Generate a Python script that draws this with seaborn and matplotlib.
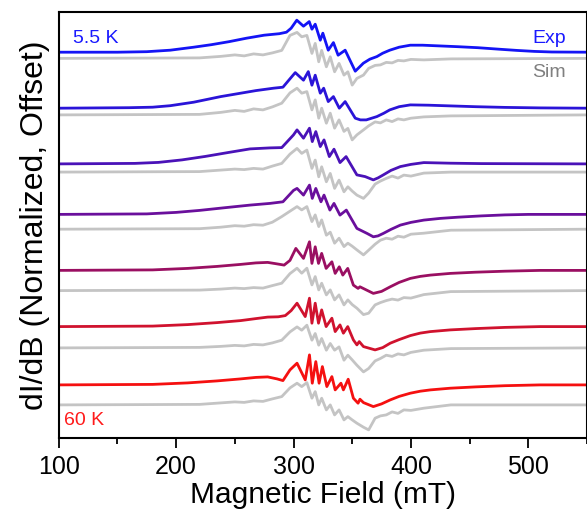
import numpy as np
import matplotlib
matplotlib.use("Agg")
import matplotlib.pyplot as plt
from matplotlib.ticker import MultipleLocator
import seaborn as sns

sns.set_style("white")
plt.rcParams["font.family"] = ["Liberation Sans", "DejaVu Sans"]
plt.rcParams["text.color"] = "black"
plt.rcParams["axes.labelcolor"] = "black"
plt.rcParams["xtick.color"] = "black"

# ----------------------------------------------------------
# Data (field in mT, signal in arb. units)
# ----------------------------------------------------------
temps = ["5.5 K", "", "", "", "", "", "60 K"]
exp_offsets = [385.7, 329.7, 274.0, 223.5, 167.5, 111.3, 53.0]
sim_offsets = [379.5, 323.0, 265.8, 208.7, 147.3, 90.0, 33.0]

exp1_field = [100, 150, 175, 195, 215, 230, 245, 260, 275, 288, 294, 298, 302.8, 308.5, 313.4,
              315.7, 318.5, 322.8, 325, 329.6, 334, 338, 344, 352.6, 359.5, 365, 371, 376, 382,
              390, 399.5, 410, 420, 440, 457, 475, 490, 505, 520, 550]
exp1_val = [0, 0, 0.5, 2, 5, 7.5, 10.5, 14, 17, 18.5, 20, 24, 32, 26, 30.6,
            23, 28, 12, 19, 2, 9.6, -3, 2, -19, -11, -7, -4.4, -1, 2,
            5, 7, 7, 6.5, 5.5, 4.5, 3, 1.8, 0.8, 0.2, 0]

exp2_field = [100, 160, 180, 195, 215, 238, 255, 268, 283, 291, 296, 301.5, 308.5, 312.6, 315.7,
              318.5, 322.8, 325.7, 329.6, 334, 339, 344, 352.6, 357, 362, 371, 377, 382, 390,
              399.5, 415, 433.6, 455, 480, 510, 550]
exp2_val = [0, 0.5, 1, 2.5, 6, 11.6, 15, 17.6, 20, 21, 28, 35.6, 28, 36.6, 23,
            33, 15, 20, 6.6, 11.6, 0, 6.6, -10, -11.7, -11.7, -8.4, -5, -1.7, 1.5,
            3.3, 3, 2.3, 1.5, 0.8, 0.3, 0]

exp3_field = [100, 165, 185, 205, 225, 245, 263, 280, 290, 300, 303, 308.5, 313.6, 316, 319,
              322.8, 326, 330.5, 334.5, 339.6, 344.8, 354, 361, 368, 372, 376.5, 383, 391, 400,
              411, 433.6, 460, 550]
exp3_val = [0, 0.5, 1.5, 4, 7.5, 11.5, 15, 16, 16.3, 29, 34, 25.7, 35.7, 22.3, 32.3,
            17.3, 24, 7.3, 14.7, 1.3, 7.3, -11, -12.7, -16, -14, -11, -6.5, -2.7, -0.5,
            1.3, 0.7, 0.3, 0]

exp4_field = [100, 175, 200, 220, 240, 263, 280, 291, 300, 303, 308.5, 313.6, 316, 319, 323.4,
              326, 331, 334.5, 339.6, 345, 354, 362.6, 368, 372, 376.5, 383, 391, 400, 411,
              425, 440, 460, 480, 500, 550]
exp4_val = [0, 0.5, 2, 4, 6.5, 9.3, 11, 12.6, 24, 26, 19.3, 29.3, 16, 26, 12.6,
            19.3, 4.3, 11, -0.7, 4.3, -14, -19, -22.4, -21.5, -19, -15, -10.7, -8, -5.7,
            -4, -2.8, -1.5, -0.5, 0, 0]

exp5_field = [100, 180, 210, 235, 255, 268, 278, 286, 292, 297, 302, 308.5, 313.6, 315.7, 318.5,
              321.3, 324, 327.8, 332.7, 335.5, 339, 342, 346.2, 351, 355, 356.6, 368, 375, 382.4,
              390, 399.5, 408, 416.6, 433.6, 455, 480, 510, 550]
exp5_val = [0, 0.5, 2, 4, 6, 7.5, 8, 6.5, 5.3, 10, 22, 12, 28.6, 7, 23.6,
            7, 17, 2, 8.6, -3, 3.6, -4.7, 2, -14.7, -18, -16.4, -23, -21, -16.4,
            -12, -8, -6, -4.7, -3, -1.8, -0.8, 0, 0]

exp6_field = [100, 180, 210, 235, 255, 268, 278, 287, 293, 298, 303, 310, 313.6, 315.7, 318.5,
              321.3, 324, 327.8, 332.7, 335.5, 339.6, 342.5, 346.2, 351, 354, 356, 359.6, 369.5,
              376, 382.4, 390, 399.5, 408, 416.6, 433.6, 455, 480, 510, 550]
exp6_val = [0, 0.5, 2, 4, 6, 8, 9.5, 9.8, 11, 16, 23.4, 10, 28.4, 3.4, 23.4,
            3.4, 16.7, 0, 8.4, -5, 1.7, -6.6, 0, -13.3, -18.3, -15, -20, -23.3,
            -21, -16.6, -13, -9, -6.5, -5, -3.3, -2, -0.8, 0, 0]

exp7_field = [100, 180, 210, 235, 255, 268, 278, 286, 291, 297, 303, 310, 313.6, 316, 319,
              321.8, 324.6, 328.4, 332.7, 335.5, 340.4, 342.5, 346.6, 351, 355, 356.6, 359.6,
              368, 375, 382.4, 390, 399.5, 408, 416.6, 433.6, 455, 480, 510, 550]
exp7_val = [0, 0.5, 2, 4, 6, 7.5, 8, 6, 4.3, 15, 21.7, 5, 30, 1.7, 23.3,
            1.7, 18.3, -1.7, 8.3, -5, 1.7, -5, 5.7, -13.3, -18.3, -14.3, -17.7,
            -21.7, -19, -15, -11.5, -8.3, -6.3, -5, -3.3, -2, -0.8, 0, 0]

sim_field = [100, 220, 238, 250, 258, 266, 274, 282, 290, 297, 303, 307, 311.4, 315.7, 318.5,
             321.5, 324, 328, 331.3, 335, 338.8, 343, 346.3, 350, 354, 359.6, 364, 369.5, 374,
             379, 384, 389, 394, 400, 411, 434, 550]
sim1_val = [0, 0.5, 2, 3.5, 2.5, 4.5, 3.5, 5.5, 8, 23, 26, 21.6, 23, 5, 15,
            -3.4, 8, -8.4, 1.6, -13.4, -5, -16.7, -13.4, -26.7, -20, -16.7, -10, -7, -6.5,
            -4, -4.5, -2, -2.5, -1, -1.5, -0.5, 0]
sim2_val = [0, 0.5, 2.5, 4.5, 3.5, 6, 5, 8, 11.7, 22, 26.7, 21.7, 23.3, 5, 15,
            -3.3, 6.7, -8.3, 1.7, -13.3, -5, -16.5, -13.5, -25, -20, -15, -11, -7, -8,
            -5, -6.7, -4, -5, -3.3, -2, -1, 0]
sim3_val = [0, 0.5, 2, 3, 2.5, 3.7, 3, 6, 8.7, 18, 23.7, 18.7, 22, 3.7, 12,
            -4.7, 5.3, -9.7, -1.3, -16.3, -8, -19.7, -14.7, -19, -23, -26.3, -21, -12, -9,
            -6.3, -4, -6, -3, -4, -1, 0, 0]
sim4_val = [0, 0.5, 2, 3.5, 3, 4.5, 4, 7, 12.6, 18, 22.6, 19.3, 22.6, 7.6, 14.3,
            2.6, 9.3, -6, -3, -14, -9, -17.4, -14, -17, -20.7, -25.7, -21, -15, -11,
            -9, -10, -7, -8, -5, -4, -1, 0]
sim5_val = [0, 0.5, 1.5, 2.5, 2, 3, 2.5, 5, 7.4, 17, 22.4, 17.4, 22.4, 5.7, 14,
            0.7, 7.4, -4.3, 0.7, -9.3, -4.3, -14.3, -9.3, -14, -17.6, -24, -22.6, -14.3, -12,
            -10, -8.5, -9.5, -7, -7.5, -4, -1, 0]
sim6_val = [0, 0.5, 1.5, 2.5, 2, 3.5, 3, 5, 7.7, 16, 21, 17.7, 22.7, 7.7, 14.4,
            2.7, 9.4, -2.3, 4.4, -2.3, 1, -12.3, -7.3, -12, -17.3, -24, -20.6, -13, -10.6,
            -7.3, -8.5, -6, -7, -4.5, -2.3, -0.7, 0]
sim7_val = [0, 0.5, 2, 3, 2.5, 4, 3.5, 6, 8.3, 17, 21.7, 18.3, 22.3, 6.7, 13.3,
            0, 6.7, -5, 0, -10, -5, -15, -11.7, -15, -18.3, -22.3, -25, -13.3, -11,
            -10, -7, -8.5, -5, -5.5, -3.3, 0, 0]

exp_fields = [exp1_field, exp2_field, exp3_field, exp4_field, exp5_field, exp6_field, exp7_field]
exp_vals = [exp1_val, exp2_val, exp3_val, exp4_val, exp5_val, exp6_val, exp7_val]
sim_vals = [sim1_val, sim2_val, sim3_val, sim4_val, sim5_val, sim6_val, sim7_val]

exp_colors = ["#1414f5", "#2a14d8", "#4a12b8", "#6a0f9c", "#9a0f62", "#d0122e", "#f51010"]
sim_color = "#c4c4c4"

# ----------------------------------------------------------
# Plot
# ----------------------------------------------------------
fig = plt.figure(figsize=(5.87, 5.17), dpi=100)
ax = fig.add_axes([0.1, 0.153, 0.9, 0.824])

for i in range(7):
    sns.lineplot(x=sim_field, y=np.array(sim_vals[i]) + sim_offsets[i], ax=ax,
                 color=sim_color, lw=2, estimator=None, sort=False)
for i in range(7):
    sns.lineplot(x=exp_fields[i], y=np.array(exp_vals[i]) + exp_offsets[i], ax=ax,
                 color=exp_colors[i], lw=2, estimator=None, sort=False)

ax.set_xlim(100, 550)
ax.set_ylim(0, 426)
ax.xaxis.set_major_locator(MultipleLocator(100))
ax.xaxis.set_minor_locator(MultipleLocator(50))
ax.set_xticks([100, 200, 300, 400, 500])
ax.set_yticks([])
ax.tick_params(axis="x", which="major", direction="out", length=7, width=1.3,
               labelsize=18, pad=5, bottom=True, colors="black")
ax.tick_params(axis="x", which="minor", direction="out", length=4, width=1.3, bottom=True)
for s in ax.spines.values():
    s.set_linewidth(1.5)
    s.set_color("black")

ax.set_xlabel("Magnetic Field (mT)", fontsize=21.5, labelpad=2)
ax.set_ylabel("dI/dB (Normalized, Offset)", fontsize=23, labelpad=6)

ax.text(112, 399.5, temps[0], color="#1a1aff", fontsize=14, ha="left", va="center")
ax.text(532, 399.5, "Exp", color="#1a1aff", fontsize=14, ha="right", va="center")
ax.text(532, 365.3, "Sim", color="#808080", fontsize=14, ha="right", va="center")
ax.text(104.5, 17.3, temps[6], color="#ff1a1a", fontsize=14, ha="left", va="center")

fig.savefig("out.png", dpi=100)
